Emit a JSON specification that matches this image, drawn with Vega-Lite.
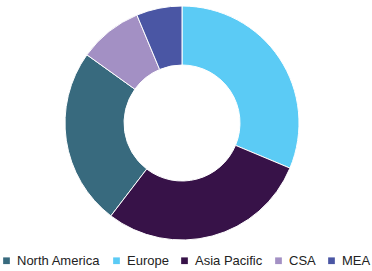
{
  "$schema": "https://vega.github.io/schema/vega-lite/v6.json",
  "autosize": {"type": "fit", "contains": "padding"},
  "width": 372,
  "height": 271,
  "padding": {"left": 0, "right": 8, "top": 0, "bottom": 3},
  "data": {"values": [
    {"region": "North America", "share": 24.5, "ord": 3},
    {"region": "Europe", "share": 31.3, "ord": 1},
    {"region": "Asia Pacific", "share": 29.1, "ord": 2},
    {"region": "CSA", "share": 8.8, "ord": 4},
    {"region": "MEA", "share": 6.3, "ord": 5}
  ]},
  "mark": {"type": "arc", "innerRadius": 58, "outerRadius": 117, "stroke": "white", "strokeWidth": 1},
  "encoding": {
    "theta": {"field": "share", "type": "quantitative", "stack": true},
    "order": {"field": "ord", "type": "quantitative"},
    "color": {
      "field": "region",
      "type": "nominal",
      "scale": {
        "domain": ["North America", "Europe", "Asia Pacific", "CSA", "MEA"],
        "range": ["#386a7e", "#5bcbf5", "#371248", "#a390c4", "#4a56a4"]
      },
      "legend": {
        "orient": "bottom",
        "direction": "horizontal",
        "title": null,
        "symbolType": "square",
        "symbolSize": 45,
        "symbolStrokeWidth": 0,
        "labelFont": "Liberation Sans",
        "labelFontSize": 13,
        "labelColor": "#222222",
        "labelOffset": 4,
        "columnPadding": 9,
        "offset": 8
      }
    }
  },
  "config": {"view": {"stroke": null}}
}
